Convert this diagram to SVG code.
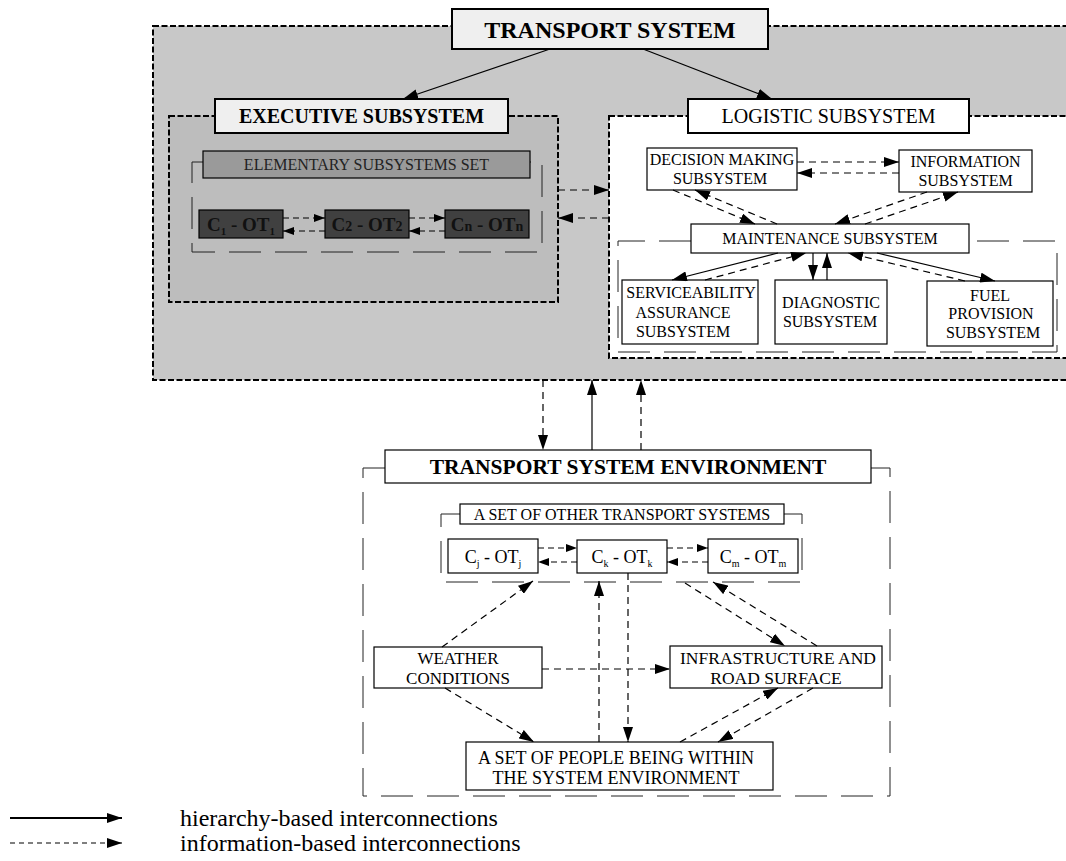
<svg xmlns="http://www.w3.org/2000/svg" width="1066" height="861" viewBox="0 0 1066 861">
<defs>
<marker id="ah" markerUnits="userSpaceOnUse" markerWidth="16" markerHeight="10" refX="15" refY="5" orient="auto">
<path d="M0,0 L15,5 L0,10 z" fill="#000"/>
</marker>
<marker id="ahs" markerUnits="userSpaceOnUse" markerWidth="12" markerHeight="8" refX="11" refY="4" orient="auto">
<path d="M0,0 L11,4 L0,8 z" fill="#000"/>
</marker>
</defs>
<style>
text{font-family:"Liberation Serif","Times New Roman",serif;fill:#000;text-anchor:middle}
.box{fill:#fff;stroke:#000;stroke-width:1.2}
.lbl{fill:#efefef;stroke:#000;stroke-width:2}
.bigdash{stroke:#000;stroke-width:2;stroke-dasharray:6 2.5}
.brk{fill:none;stroke:#222;stroke-width:1;stroke-dasharray:32 14}
.sol{stroke:#000;stroke-width:1.2;fill:none;marker-end:url(#ah)}
.dsh{stroke:#000;stroke-width:1.2;fill:none;stroke-dasharray:7 5;marker-end:url(#ah)}
.dshs{stroke:#000;stroke-width:1.2;fill:none;stroke-dasharray:6 4;marker-end:url(#ahs)}
.cb{fill:#404040;stroke:#000;stroke-width:1.2}
.ct{font-weight:bold;fill:#111}
.b{font-weight:bold}
</style>
<rect width="1066" height="861" fill="#fff"/>

<g id="transport-system">
<rect x="153" y="26" width="930" height="354" class="bigdash" style="fill:#c8c8c8"/>
<rect x="452" y="9" width="316" height="40" class="lbl"/>
<text x="610" y="38" font-size="24" class="b">TRANSPORT SYSTEM</text>
</g>

<g id="executive-subsystem">
<rect x="169" y="116" width="389" height="186" class="bigdash" style="fill:#bdbdbd"/>
<rect x="215" y="99" width="293" height="34" class="lbl"/>
<text x="361.5" y="123" font-size="20" class="b">EXECUTIVE SUBSYSTEM</text>
</g>

<g id="elementary-set">
<path class="brk" d="M203,162 H192 V252 H542 V162 H530"/>
<rect x="203" y="151" width="327" height="27" style="fill:#9a9a9a;stroke:#000;stroke-width:1.2"/>
<text x="366.5" y="170" font-size="16" style="fill:#222">ELEMENTARY SUBSYSTEMS SET</text>
</g>

<g id="c1-ot1">
<rect x="199" y="210" width="84" height="28" class="cb"/>
<text x="241" y="231" font-size="19" class="ct">C<tspan font-size="11" dy="4">1</tspan><tspan dy="-4"> - OT</tspan><tspan font-size="11" dy="4">1</tspan></text>
</g>
<g id="c2-ot2">
<rect x="325" y="210" width="84" height="28" class="cb"/>
<text x="367" y="231" font-size="19" class="ct">C<tspan font-size="14">2</tspan> - OT<tspan font-size="14">2</tspan></text>
</g>
<g id="cn-otn">
<rect x="445" y="210" width="84" height="28" class="cb"/>
<text x="487" y="231" font-size="19" class="ct">C<tspan font-size="14">n</tspan> - OT<tspan font-size="14">n</tspan></text>
</g>

<g id="logistic-subsystem">
<rect x="609" y="116" width="470" height="242" class="bigdash" style="fill:#fff"/>
<rect x="688" y="99" width="281" height="34" style="fill:#fff;stroke:#000;stroke-width:2"/>
<text x="828.5" y="123" font-size="20">LOGISTIC SUBSYSTEM</text>
</g>

<g id="decision-making">
<rect x="647" y="148" width="150" height="42" class="box"/>
<text x="722" y="165" font-size="16">DECISION MAKING</text>
<text x="720" y="184" font-size="16">SUBSYSTEM</text>
</g>
<g id="information">
<rect x="899" y="150" width="133" height="42" class="box"/>
<text x="965.5" y="167" font-size="16">INFORMATION</text>
<text x="965.5" y="186" font-size="16">SUBSYSTEM</text>
</g>

<g id="maintenance-bracket">
<path class="brk" d="M691,241 H618 V352 H1057 V241 H969"/>
</g>
<g id="maintenance">
<rect x="691" y="224" width="278" height="29" class="box"/>
<text x="830" y="244" font-size="16">MAINTENANCE SUBSYSTEM</text>
</g>
<g id="serviceability">
<rect x="622" y="280" width="136" height="64" class="box"/>
<text x="691" y="298" font-size="16">SERVICEABILITY</text>
<text x="683" y="318" font-size="16">ASSURANCE</text>
<text x="683" y="337" font-size="16">SUBSYSTEM</text>
</g>
<g id="diagnostic">
<rect x="775" y="280" width="112" height="64" class="box"/>
<text x="831" y="308" font-size="16">DIAGNOSTIC</text>
<text x="830" y="327" font-size="16">SUBSYSTEM</text>
</g>
<g id="fuel">
<rect x="927" y="281" width="126" height="65" class="box"/>
<text x="990" y="301" font-size="16">FUEL</text>
<text x="991" y="319" font-size="16">PROVISION</text>
<text x="993" y="338" font-size="16">SUBSYSTEM</text>
</g>

<g id="environment">
<path class="brk" d="M385,468 H363 V796 H890 V468 H871"/>
<rect x="385" y="450" width="486" height="33" class="box"/>
<text x="628" y="474" font-size="21.5" class="b">TRANSPORT SYSTEM ENVIRONMENT</text>
</g>

<g id="other-transport-systems">
<path class="brk" d="M460,514 H441 V582 H802 V514 H784"/>
<rect x="460" y="504" width="324" height="20" class="box"/>
<text x="622" y="520" font-size="16">A SET OF OTHER TRANSPORT SYSTEMS</text>
</g>
<g id="cj-otj">
<rect x="448" y="539" width="90" height="34" class="box"/>
<text x="493" y="563" font-size="18">C<tspan font-size="10" dy="4">j</tspan><tspan dy="-4"> - OT</tspan><tspan font-size="10" dy="4">j</tspan></text>
</g>
<g id="ck-otk">
<rect x="577" y="540" width="90" height="33" class="box"/>
<text x="622" y="563" font-size="18">C<tspan font-size="10" dy="4">k</tspan><tspan dy="-4"> - OT</tspan><tspan font-size="10" dy="4">k</tspan></text>
</g>
<g id="cm-otm">
<rect x="708" y="539" width="90" height="34" class="box"/>
<text x="753" y="563" font-size="18">C<tspan font-size="10" dy="4">m</tspan><tspan dy="-4"> - OT</tspan><tspan font-size="10" dy="4">m</tspan></text>
</g>

<g id="weather">
<rect x="374" y="647" width="168" height="41" class="box"/>
<text x="458" y="664" font-size="17">WEATHER</text>
<text x="458" y="684" font-size="17">CONDITIONS</text>
</g>
<g id="infrastructure">
<rect x="670" y="646" width="212" height="42" class="box"/>
<text x="778" y="664" font-size="17.5">INFRASTRUCTURE AND</text>
<text x="776" y="684" font-size="17.5">ROAD SURFACE</text>
</g>
<g id="people">
<rect x="466" y="742" width="307" height="48" class="box"/>
<text x="616" y="764" font-size="18">A SET OF PEOPLE BEING WITHIN</text>
<text x="616" y="784" font-size="18">THE SYSTEM ENVIRONMENT</text>
</g>

<g id="connectors">
<line class="sol" x1="550" y1="49" x2="403" y2="99"/>
<line class="sol" x1="643" y1="49" x2="772" y2="99"/>
<line class="dsh" x1="558" y1="190" x2="609" y2="190"/>
<line class="dsh" x1="609" y1="218" x2="558" y2="218"/>
<line class="dshs" x1="283" y1="218" x2="325" y2="218"/>
<line class="dshs" x1="325" y1="231" x2="283" y2="231"/>
<line class="dshs" x1="409" y1="218" x2="445" y2="218"/>
<line class="dshs" x1="445" y1="231" x2="409" y2="231"/>
<line class="dsh" x1="797" y1="162" x2="899" y2="162"/>
<line class="dsh" x1="899" y1="173" x2="797" y2="173"/>
<line class="dsh" x1="673" y1="190" x2="755" y2="224"/>
<line class="dsh" x1="777" y1="224" x2="695" y2="190"/>
<line class="dsh" x1="927" y1="192" x2="835" y2="224"/>
<line class="dsh" x1="865" y1="224" x2="958" y2="192"/>
<line class="sol" x1="778" y1="253" x2="672" y2="280"/>
<line class="dsh" x1="705" y1="280" x2="806" y2="253"/>
<line class="sol" x1="813" y1="253" x2="813" y2="280"/>
<line class="sol" x1="827" y1="280" x2="827" y2="253"/>
<line class="sol" x1="877" y1="253" x2="995" y2="281"/>
<line class="dsh" x1="965" y1="281" x2="848" y2="253"/>
<line class="dsh" x1="543" y1="380" x2="543" y2="450"/>
<line class="sol" x1="592" y1="450" x2="592" y2="380"/>
<line class="dsh" x1="641" y1="450" x2="641" y2="380"/>
<line class="dshs" x1="538" y1="548" x2="577" y2="548"/>
<line class="dshs" x1="577" y1="562" x2="538" y2="562"/>
<line class="dshs" x1="667" y1="548" x2="708" y2="548"/>
<line class="dshs" x1="708" y1="562" x2="667" y2="562"/>
<line class="dsh" x1="442" y1="647" x2="533" y2="581"/>
<line class="dsh" x1="599" y1="742" x2="599" y2="581"/>
<line class="dsh" x1="628" y1="573" x2="628" y2="742"/>
<line class="dsh" x1="685" y1="583" x2="785" y2="646"/>
<line class="dsh" x1="817" y1="646" x2="713" y2="582"/>
<line class="dsh" x1="542" y1="669" x2="670" y2="669"/>
<line class="dsh" x1="445" y1="688" x2="534" y2="742"/>
<line class="dsh" x1="680" y1="742" x2="778" y2="688"/>
<line class="dsh" x1="813" y1="688" x2="718" y2="742"/>
</g>

<g id="legend">
<line class="sol" x1="10" y1="818" x2="122" y2="818" style="stroke-width:2"/>
<line class="dsh" x1="10" y1="843" x2="122" y2="843" style="stroke-dasharray:5 4"/>
<text x="180" y="826" font-size="24" style="text-anchor:start">hierarchy-based interconnections</text>
<text x="180" y="851" font-size="24" style="text-anchor:start">information-based interconnections</text>
</g>
</svg>
